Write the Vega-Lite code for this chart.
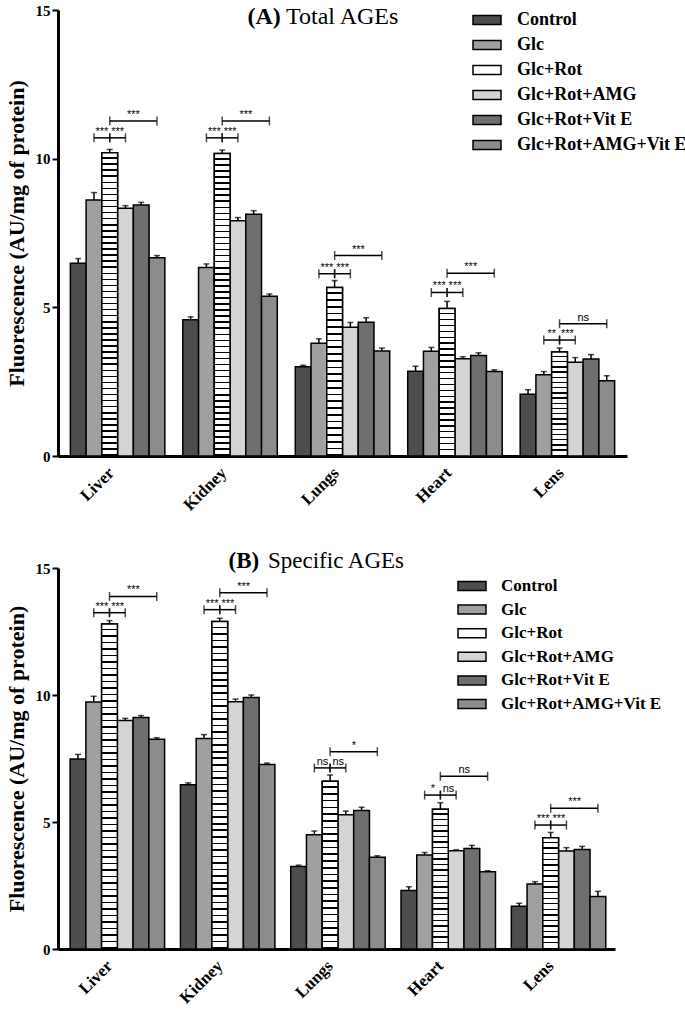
{
"$schema":"https://vega.github.io/schema/vega-lite/v6.json",
"padding":{"left":5,"top":3,"right":5,"bottom":5},
"bounds":"flush",
"spacing":112,
"params":[
{"name":"g50","value":{"gradient":"linear","x1":0,"y1":0,"x2":0,"y2":1,"stops":[
{"offset":0,"color":"#fff"},{"offset":0.015,"color":"#fff"},{"offset":0.015,"color":"#000"},{"offset":0.02,"color":"#000"},
{"offset":0.02,"color":"#fff"},{"offset":0.035,"color":"#fff"},{"offset":0.035,"color":"#000"},{"offset":0.04,"color":"#000"},
{"offset":0.04,"color":"#fff"},{"offset":0.055,"color":"#fff"},{"offset":0.055,"color":"#000"},{"offset":0.06,"color":"#000"},
{"offset":0.06,"color":"#fff"},{"offset":0.075,"color":"#fff"},{"offset":0.075,"color":"#000"},{"offset":0.08,"color":"#000"},
{"offset":0.08,"color":"#fff"},{"offset":0.095,"color":"#fff"},{"offset":0.095,"color":"#000"},{"offset":0.1,"color":"#000"},
{"offset":0.1,"color":"#fff"},{"offset":0.115,"color":"#fff"},{"offset":0.115,"color":"#000"},{"offset":0.12,"color":"#000"},
{"offset":0.12,"color":"#fff"},{"offset":0.135,"color":"#fff"},{"offset":0.135,"color":"#000"},{"offset":0.14,"color":"#000"},
{"offset":0.14,"color":"#fff"},{"offset":0.155,"color":"#fff"},{"offset":0.155,"color":"#000"},{"offset":0.16,"color":"#000"},
{"offset":0.16,"color":"#fff"},{"offset":0.175,"color":"#fff"},{"offset":0.175,"color":"#000"},{"offset":0.18,"color":"#000"},
{"offset":0.18,"color":"#fff"},{"offset":0.195,"color":"#fff"},{"offset":0.195,"color":"#000"},{"offset":0.2,"color":"#000"},
{"offset":0.2,"color":"#fff"},{"offset":0.215,"color":"#fff"},{"offset":0.215,"color":"#000"},{"offset":0.22,"color":"#000"},
{"offset":0.22,"color":"#fff"},{"offset":0.235,"color":"#fff"},{"offset":0.235,"color":"#000"},{"offset":0.24,"color":"#000"},
{"offset":0.24,"color":"#fff"},{"offset":0.255,"color":"#fff"},{"offset":0.255,"color":"#000"},{"offset":0.26,"color":"#000"},
{"offset":0.26,"color":"#fff"},{"offset":0.275,"color":"#fff"},{"offset":0.275,"color":"#000"},{"offset":0.28,"color":"#000"},
{"offset":0.28,"color":"#fff"},{"offset":0.295,"color":"#fff"},{"offset":0.295,"color":"#000"},{"offset":0.3,"color":"#000"},
{"offset":0.3,"color":"#fff"},{"offset":0.315,"color":"#fff"},{"offset":0.315,"color":"#000"},{"offset":0.32,"color":"#000"},
{"offset":0.32,"color":"#fff"},{"offset":0.335,"color":"#fff"},{"offset":0.335,"color":"#000"},{"offset":0.34,"color":"#000"},
{"offset":0.34,"color":"#fff"},{"offset":0.355,"color":"#fff"},{"offset":0.355,"color":"#000"},{"offset":0.36,"color":"#000"},
{"offset":0.36,"color":"#fff"},{"offset":0.375,"color":"#fff"},{"offset":0.375,"color":"#000"},{"offset":0.38,"color":"#000"},
{"offset":0.38,"color":"#fff"},{"offset":0.395,"color":"#fff"},{"offset":0.395,"color":"#000"},{"offset":0.4,"color":"#000"},
{"offset":0.4,"color":"#fff"},{"offset":0.415,"color":"#fff"},{"offset":0.415,"color":"#000"},{"offset":0.42,"color":"#000"},
{"offset":0.42,"color":"#fff"},{"offset":0.435,"color":"#fff"},{"offset":0.435,"color":"#000"},{"offset":0.44,"color":"#000"},
{"offset":0.44,"color":"#fff"},{"offset":0.455,"color":"#fff"},{"offset":0.455,"color":"#000"},{"offset":0.46,"color":"#000"},
{"offset":0.46,"color":"#fff"},{"offset":0.475,"color":"#fff"},{"offset":0.475,"color":"#000"},{"offset":0.48,"color":"#000"},
{"offset":0.48,"color":"#fff"},{"offset":0.495,"color":"#fff"},{"offset":0.495,"color":"#000"},{"offset":0.5,"color":"#000"},
{"offset":0.5,"color":"#fff"},{"offset":0.515,"color":"#fff"},{"offset":0.515,"color":"#000"},{"offset":0.52,"color":"#000"},
{"offset":0.52,"color":"#fff"},{"offset":0.535,"color":"#fff"},{"offset":0.535,"color":"#000"},{"offset":0.54,"color":"#000"},
{"offset":0.54,"color":"#fff"},{"offset":0.555,"color":"#fff"},{"offset":0.555,"color":"#000"},{"offset":0.56,"color":"#000"},
{"offset":0.56,"color":"#fff"},{"offset":0.575,"color":"#fff"},{"offset":0.575,"color":"#000"},{"offset":0.58,"color":"#000"},
{"offset":0.58,"color":"#fff"},{"offset":0.595,"color":"#fff"},{"offset":0.595,"color":"#000"},{"offset":0.6,"color":"#000"},
{"offset":0.6,"color":"#fff"},{"offset":0.615,"color":"#fff"},{"offset":0.615,"color":"#000"},{"offset":0.62,"color":"#000"},
{"offset":0.62,"color":"#fff"},{"offset":0.635,"color":"#fff"},{"offset":0.635,"color":"#000"},{"offset":0.64,"color":"#000"},
{"offset":0.64,"color":"#fff"},{"offset":0.655,"color":"#fff"},{"offset":0.655,"color":"#000"},{"offset":0.66,"color":"#000"},
{"offset":0.66,"color":"#fff"},{"offset":0.675,"color":"#fff"},{"offset":0.675,"color":"#000"},{"offset":0.68,"color":"#000"},
{"offset":0.68,"color":"#fff"},{"offset":0.695,"color":"#fff"},{"offset":0.695,"color":"#000"},{"offset":0.7,"color":"#000"},
{"offset":0.7,"color":"#fff"},{"offset":0.715,"color":"#fff"},{"offset":0.715,"color":"#000"},{"offset":0.72,"color":"#000"},
{"offset":0.72,"color":"#fff"},{"offset":0.735,"color":"#fff"},{"offset":0.735,"color":"#000"},{"offset":0.74,"color":"#000"},
{"offset":0.74,"color":"#fff"},{"offset":0.755,"color":"#fff"},{"offset":0.755,"color":"#000"},{"offset":0.76,"color":"#000"},
{"offset":0.76,"color":"#fff"},{"offset":0.775,"color":"#fff"},{"offset":0.775,"color":"#000"},{"offset":0.78,"color":"#000"},
{"offset":0.78,"color":"#fff"},{"offset":0.795,"color":"#fff"},{"offset":0.795,"color":"#000"},{"offset":0.8,"color":"#000"},
{"offset":0.8,"color":"#fff"},{"offset":0.815,"color":"#fff"},{"offset":0.815,"color":"#000"},{"offset":0.82,"color":"#000"},
{"offset":0.82,"color":"#fff"},{"offset":0.835,"color":"#fff"},{"offset":0.835,"color":"#000"},{"offset":0.84,"color":"#000"},
{"offset":0.84,"color":"#fff"},{"offset":0.855,"color":"#fff"},{"offset":0.855,"color":"#000"},{"offset":0.86,"color":"#000"},
{"offset":0.86,"color":"#fff"},{"offset":0.875,"color":"#fff"},{"offset":0.875,"color":"#000"},{"offset":0.88,"color":"#000"},
{"offset":0.88,"color":"#fff"},{"offset":0.895,"color":"#fff"},{"offset":0.895,"color":"#000"},{"offset":0.9,"color":"#000"},
{"offset":0.9,"color":"#fff"},{"offset":0.915,"color":"#fff"},{"offset":0.915,"color":"#000"},{"offset":0.92,"color":"#000"},
{"offset":0.92,"color":"#fff"},{"offset":0.935,"color":"#fff"},{"offset":0.935,"color":"#000"},{"offset":0.94,"color":"#000"},
{"offset":0.94,"color":"#fff"},{"offset":0.955,"color":"#fff"},{"offset":0.955,"color":"#000"},{"offset":0.96,"color":"#000"},
{"offset":0.96,"color":"#fff"},{"offset":0.975,"color":"#fff"},{"offset":0.975,"color":"#000"},{"offset":0.98,"color":"#000"},
{"offset":0.98,"color":"#fff"},{"offset":0.995,"color":"#fff"},{"offset":0.995,"color":"#000"},{"offset":1,"color":"#000"}
]}},
{"name":"g25","value":{"gradient":"linear","x1":0,"y1":0,"x2":0,"y2":1,"stops":[
{"offset":0,"color":"#fff"},{"offset":0.03,"color":"#fff"},{"offset":0.03,"color":"#000"},{"offset":0.04,"color":"#000"},
{"offset":0.04,"color":"#fff"},{"offset":0.07,"color":"#fff"},{"offset":0.07,"color":"#000"},{"offset":0.08,"color":"#000"},
{"offset":0.08,"color":"#fff"},{"offset":0.11,"color":"#fff"},{"offset":0.11,"color":"#000"},{"offset":0.12,"color":"#000"},
{"offset":0.12,"color":"#fff"},{"offset":0.15,"color":"#fff"},{"offset":0.15,"color":"#000"},{"offset":0.16,"color":"#000"},
{"offset":0.16,"color":"#fff"},{"offset":0.19,"color":"#fff"},{"offset":0.19,"color":"#000"},{"offset":0.2,"color":"#000"},
{"offset":0.2,"color":"#fff"},{"offset":0.23,"color":"#fff"},{"offset":0.23,"color":"#000"},{"offset":0.24,"color":"#000"},
{"offset":0.24,"color":"#fff"},{"offset":0.27,"color":"#fff"},{"offset":0.27,"color":"#000"},{"offset":0.28,"color":"#000"},
{"offset":0.28,"color":"#fff"},{"offset":0.31,"color":"#fff"},{"offset":0.31,"color":"#000"},{"offset":0.32,"color":"#000"},
{"offset":0.32,"color":"#fff"},{"offset":0.35,"color":"#fff"},{"offset":0.35,"color":"#000"},{"offset":0.36,"color":"#000"},
{"offset":0.36,"color":"#fff"},{"offset":0.39,"color":"#fff"},{"offset":0.39,"color":"#000"},{"offset":0.4,"color":"#000"},
{"offset":0.4,"color":"#fff"},{"offset":0.43,"color":"#fff"},{"offset":0.43,"color":"#000"},{"offset":0.44,"color":"#000"},
{"offset":0.44,"color":"#fff"},{"offset":0.47,"color":"#fff"},{"offset":0.47,"color":"#000"},{"offset":0.48,"color":"#000"},
{"offset":0.48,"color":"#fff"},{"offset":0.51,"color":"#fff"},{"offset":0.51,"color":"#000"},{"offset":0.52,"color":"#000"},
{"offset":0.52,"color":"#fff"},{"offset":0.55,"color":"#fff"},{"offset":0.55,"color":"#000"},{"offset":0.56,"color":"#000"},
{"offset":0.56,"color":"#fff"},{"offset":0.59,"color":"#fff"},{"offset":0.59,"color":"#000"},{"offset":0.6,"color":"#000"},
{"offset":0.6,"color":"#fff"},{"offset":0.63,"color":"#fff"},{"offset":0.63,"color":"#000"},{"offset":0.64,"color":"#000"},
{"offset":0.64,"color":"#fff"},{"offset":0.67,"color":"#fff"},{"offset":0.67,"color":"#000"},{"offset":0.68,"color":"#000"},
{"offset":0.68,"color":"#fff"},{"offset":0.71,"color":"#fff"},{"offset":0.71,"color":"#000"},{"offset":0.72,"color":"#000"},
{"offset":0.72,"color":"#fff"},{"offset":0.75,"color":"#fff"},{"offset":0.75,"color":"#000"},{"offset":0.76,"color":"#000"},
{"offset":0.76,"color":"#fff"},{"offset":0.79,"color":"#fff"},{"offset":0.79,"color":"#000"},{"offset":0.8,"color":"#000"},
{"offset":0.8,"color":"#fff"},{"offset":0.83,"color":"#fff"},{"offset":0.83,"color":"#000"},{"offset":0.84,"color":"#000"},
{"offset":0.84,"color":"#fff"},{"offset":0.87,"color":"#fff"},{"offset":0.87,"color":"#000"},{"offset":0.88,"color":"#000"},
{"offset":0.88,"color":"#fff"},{"offset":0.91,"color":"#fff"},{"offset":0.91,"color":"#000"},{"offset":0.92,"color":"#000"},
{"offset":0.92,"color":"#fff"},{"offset":0.95,"color":"#fff"},{"offset":0.95,"color":"#000"},{"offset":0.96,"color":"#000"},
{"offset":0.96,"color":"#fff"},{"offset":0.99,"color":"#fff"},{"offset":0.99,"color":"#000"},{"offset":1,"color":"#000"}
]}},
{"name":"g20","value":{"gradient":"linear","x1":0,"y1":0,"x2":0,"y2":1,"stops":[
{"offset":0,"color":"#fff"},{"offset":0.0375,"color":"#fff"},{"offset":0.0375,"color":"#000"},{"offset":0.05,"color":"#000"},
{"offset":0.05,"color":"#fff"},{"offset":0.0875,"color":"#fff"},{"offset":0.0875,"color":"#000"},{"offset":0.1,"color":"#000"},
{"offset":0.1,"color":"#fff"},{"offset":0.1375,"color":"#fff"},{"offset":0.1375,"color":"#000"},{"offset":0.15,"color":"#000"},
{"offset":0.15,"color":"#fff"},{"offset":0.1875,"color":"#fff"},{"offset":0.1875,"color":"#000"},{"offset":0.2,"color":"#000"},
{"offset":0.2,"color":"#fff"},{"offset":0.2375,"color":"#fff"},{"offset":0.2375,"color":"#000"},{"offset":0.25,"color":"#000"},
{"offset":0.25,"color":"#fff"},{"offset":0.2875,"color":"#fff"},{"offset":0.2875,"color":"#000"},{"offset":0.3,"color":"#000"},
{"offset":0.3,"color":"#fff"},{"offset":0.3375,"color":"#fff"},{"offset":0.3375,"color":"#000"},{"offset":0.35,"color":"#000"},
{"offset":0.35,"color":"#fff"},{"offset":0.3875,"color":"#fff"},{"offset":0.3875,"color":"#000"},{"offset":0.4,"color":"#000"},
{"offset":0.4,"color":"#fff"},{"offset":0.4375,"color":"#fff"},{"offset":0.4375,"color":"#000"},{"offset":0.45,"color":"#000"},
{"offset":0.45,"color":"#fff"},{"offset":0.4875,"color":"#fff"},{"offset":0.4875,"color":"#000"},{"offset":0.5,"color":"#000"},
{"offset":0.5,"color":"#fff"},{"offset":0.5375,"color":"#fff"},{"offset":0.5375,"color":"#000"},{"offset":0.55,"color":"#000"},
{"offset":0.55,"color":"#fff"},{"offset":0.5875,"color":"#fff"},{"offset":0.5875,"color":"#000"},{"offset":0.6,"color":"#000"},
{"offset":0.6,"color":"#fff"},{"offset":0.6375,"color":"#fff"},{"offset":0.6375,"color":"#000"},{"offset":0.65,"color":"#000"},
{"offset":0.65,"color":"#fff"},{"offset":0.6875,"color":"#fff"},{"offset":0.6875,"color":"#000"},{"offset":0.7,"color":"#000"},
{"offset":0.7,"color":"#fff"},{"offset":0.7375,"color":"#fff"},{"offset":0.7375,"color":"#000"},{"offset":0.75,"color":"#000"},
{"offset":0.75,"color":"#fff"},{"offset":0.7875,"color":"#fff"},{"offset":0.7875,"color":"#000"},{"offset":0.8,"color":"#000"},
{"offset":0.8,"color":"#fff"},{"offset":0.8375,"color":"#fff"},{"offset":0.8375,"color":"#000"},{"offset":0.85,"color":"#000"},
{"offset":0.85,"color":"#fff"},{"offset":0.8875,"color":"#fff"},{"offset":0.8875,"color":"#000"},{"offset":0.9,"color":"#000"},
{"offset":0.9,"color":"#fff"},{"offset":0.9375,"color":"#fff"},{"offset":0.9375,"color":"#000"},{"offset":0.95,"color":"#000"},
{"offset":0.95,"color":"#fff"},{"offset":0.9875,"color":"#fff"},{"offset":0.9875,"color":"#000"},{"offset":1,"color":"#000"}
]}}
],
"config":{"view":{"stroke":null},"font":"Liberation Serif",
"axisY":{"grid":false,"domainColor":"black","domainWidth":3,"tickColor":"black","tickWidth":2,"tickSize":6,"labelFont":"Liberation Serif","labelFontSize":15,"labelFontWeight":"bold","labelColor":"black","labelPadding":2,"titleFont":"Liberation Serif","titleFontSize":22,"titleFontWeight":"bold","titleColor":"black","titlePadding":7},
"axisX":{"grid":false,"labelAlign":"right","labelBaseline":"middle","labelPadding":14,"labelOffset":-6,"labelFont":"Liberation Serif","labelFontSize":17,"labelFontWeight":"bold","labelColor":"black","ticks":false,"domainColor":"black","domainWidth":3,"titleAngle":0,"titleAlign":"left","titleBaseline":"alphabetic","titleFont":"Liberation Serif","titleFontWeight":"bold","titleColor":"black"}
},
"resolve":{"scale":{"fill":"independent"},"legend":{"fill":"independent"}},
"datasets":{
"bars":[
{"p":"A","organ":"Liver","group":"Control","value":6.48,"upper":6.64},
{"p":"A","organ":"Liver","group":"Glc","value":8.61,"upper":8.86},
{"p":"A","organ":"Liver","group":"Glc+Rot","value":10.2,"upper":10.31},
{"p":"A","organ":"Liver","group":"Glc+Rot+AMG","value":8.33,"upper":8.42},
{"p":"A","organ":"Liver","group":"Glc+Rot+Vit E","value":8.44,"upper":8.53},
{"p":"A","organ":"Liver","group":"Glc+Rot+AMG+Vit E","value":6.67,"upper":6.74},
{"p":"A","organ":"Kidney","group":"Control","value":4.58,"upper":4.68},
{"p":"A","organ":"Kidney","group":"Glc","value":6.34,"upper":6.46},
{"p":"A","organ":"Kidney","group":"Glc+Rot","value":10.17,"upper":10.29},
{"p":"A","organ":"Kidney","group":"Glc+Rot+AMG","value":7.91,"upper":8.02},
{"p":"A","organ":"Kidney","group":"Glc+Rot+Vit E","value":8.13,"upper":8.25},
{"p":"A","organ":"Kidney","group":"Glc+Rot+AMG+Vit E","value":5.37,"upper":5.45},
{"p":"A","organ":"Lungs","group":"Control","value":3.0,"upper":3.05},
{"p":"A","organ":"Lungs","group":"Glc","value":3.79,"upper":3.94},
{"p":"A","organ":"Lungs","group":"Glc+Rot","value":5.67,"upper":5.9},
{"p":"A","organ":"Lungs","group":"Glc+Rot+AMG","value":4.33,"upper":4.49},
{"p":"A","organ":"Lungs","group":"Glc+Rot+Vit E","value":4.5,"upper":4.65},
{"p":"A","organ":"Lungs","group":"Glc+Rot+AMG+Vit E","value":3.53,"upper":3.63},
{"p":"A","organ":"Heart","group":"Control","value":2.85,"upper":3.02},
{"p":"A","organ":"Heart","group":"Glc","value":3.52,"upper":3.65},
{"p":"A","organ":"Heart","group":"Glc+Rot","value":4.96,"upper":5.2},
{"p":"A","organ":"Heart","group":"Glc+Rot+AMG","value":3.27,"upper":3.34},
{"p":"A","organ":"Heart","group":"Glc+Rot+Vit E","value":3.38,"upper":3.47},
{"p":"A","organ":"Heart","group":"Glc+Rot+AMG+Vit E","value":2.84,"upper":2.9},
{"p":"A","organ":"Lens","group":"Control","value":2.08,"upper":2.23},
{"p":"A","organ":"Lens","group":"Glc","value":2.73,"upper":2.84},
{"p":"A","organ":"Lens","group":"Glc+Rot","value":3.5,"upper":3.63},
{"p":"A","organ":"Lens","group":"Glc+Rot+AMG","value":3.15,"upper":3.31},
{"p":"A","organ":"Lens","group":"Glc+Rot+Vit E","value":3.26,"upper":3.41},
{"p":"A","organ":"Lens","group":"Glc+Rot+AMG+Vit E","value":2.53,"upper":2.7},
{"p":"B","organ":"Liver","group":"Control","value":7.48,"upper":7.66},
{"p":"B","organ":"Liver","group":"Glc","value":9.72,"upper":9.95},
{"p":"B","organ":"Liver","group":"Glc+Rot","value":12.8,"upper":12.93},
{"p":"B","organ":"Liver","group":"Glc+Rot+AMG","value":9.0,"upper":9.08},
{"p":"B","organ":"Liver","group":"Glc+Rot+Vit E","value":9.11,"upper":9.19},
{"p":"B","organ":"Liver","group":"Glc+Rot+AMG+Vit E","value":8.26,"upper":8.32},
{"p":"B","organ":"Kidney","group":"Control","value":6.47,"upper":6.54},
{"p":"B","organ":"Kidney","group":"Glc","value":8.29,"upper":8.44},
{"p":"B","organ":"Kidney","group":"Glc+Rot","value":12.89,"upper":13.02},
{"p":"B","organ":"Kidney","group":"Glc+Rot+AMG","value":9.73,"upper":9.84},
{"p":"B","organ":"Kidney","group":"Glc+Rot+Vit E","value":9.9,"upper":10.0},
{"p":"B","organ":"Kidney","group":"Glc+Rot+AMG+Vit E","value":7.26,"upper":7.32},
{"p":"B","organ":"Lungs","group":"Control","value":3.25,"upper":3.3},
{"p":"B","organ":"Lungs","group":"Glc","value":4.5,"upper":4.65},
{"p":"B","organ":"Lungs","group":"Glc+Rot","value":6.6,"upper":6.85},
{"p":"B","organ":"Lungs","group":"Glc+Rot+AMG","value":5.29,"upper":5.43},
{"p":"B","organ":"Lungs","group":"Glc+Rot+Vit E","value":5.45,"upper":5.58},
{"p":"B","organ":"Lungs","group":"Glc+Rot+AMG+Vit E","value":3.61,"upper":3.67},
{"p":"B","organ":"Heart","group":"Control","value":2.3,"upper":2.45},
{"p":"B","organ":"Heart","group":"Glc","value":3.7,"upper":3.8},
{"p":"B","organ":"Heart","group":"Glc+Rot","value":5.5,"upper":5.76},
{"p":"B","organ":"Heart","group":"Glc+Rot+AMG","value":3.87,"upper":3.91},
{"p":"B","organ":"Heart","group":"Glc+Rot+Vit E","value":3.96,"upper":4.08},
{"p":"B","organ":"Heart","group":"Glc+Rot+AMG+Vit E","value":3.04,"upper":3.08},
{"p":"B","organ":"Lens","group":"Control","value":1.68,"upper":1.8},
{"p":"B","organ":"Lens","group":"Glc","value":2.56,"upper":2.65},
{"p":"B","organ":"Lens","group":"Glc+Rot","value":4.38,"upper":4.59},
{"p":"B","organ":"Lens","group":"Glc+Rot+AMG","value":3.86,"upper":3.99},
{"p":"B","organ":"Lens","group":"Glc+Rot+Vit E","value":3.92,"upper":4.04},
{"p":"B","organ":"Lens","group":"Glc+Rot+AMG+Vit E","value":2.07,"upper":2.27}
],
"brackets":[
{"p":"A","organ":"Liver","bid":"A-Liver-1","from":"Glc","to":"Glc+Rot","labelAt":"Glc+Rot","yb":10.7,"label":"***"},
{"p":"A","organ":"Liver","bid":"A-Liver-2","from":"Glc+Rot","to":"Glc+Rot+AMG","labelAt":"Glc+Rot+AMG","yb":10.7,"label":"***"},
{"p":"A","organ":"Liver","bid":"A-Liver-3","from":"Glc+Rot","to":"Glc+Rot+AMG+Vit E","labelAt":"Glc+Rot+Vit E","yb":11.27,"label":"***"},
{"p":"A","organ":"Kidney","bid":"A-Kidney-1","from":"Glc","to":"Glc+Rot","labelAt":"Glc+Rot","yb":10.7,"label":"***"},
{"p":"A","organ":"Kidney","bid":"A-Kidney-2","from":"Glc+Rot","to":"Glc+Rot+AMG","labelAt":"Glc+Rot+AMG","yb":10.7,"label":"***"},
{"p":"A","organ":"Kidney","bid":"A-Kidney-3","from":"Glc+Rot","to":"Glc+Rot+AMG+Vit E","labelAt":"Glc+Rot+Vit E","yb":11.27,"label":"***"},
{"p":"A","organ":"Lungs","bid":"A-Lungs-1","from":"Glc","to":"Glc+Rot","labelAt":"Glc+Rot","yb":6.13,"label":"***"},
{"p":"A","organ":"Lungs","bid":"A-Lungs-2","from":"Glc+Rot","to":"Glc+Rot+AMG","labelAt":"Glc+Rot+AMG","yb":6.13,"label":"***"},
{"p":"A","organ":"Lungs","bid":"A-Lungs-3","from":"Glc+Rot","to":"Glc+Rot+AMG+Vit E","labelAt":"Glc+Rot+Vit E","yb":6.74,"label":"***"},
{"p":"A","organ":"Heart","bid":"A-Heart-1","from":"Glc","to":"Glc+Rot","labelAt":"Glc+Rot","yb":5.5,"label":"***"},
{"p":"A","organ":"Heart","bid":"A-Heart-2","from":"Glc+Rot","to":"Glc+Rot+AMG","labelAt":"Glc+Rot+AMG","yb":5.5,"label":"***"},
{"p":"A","organ":"Heart","bid":"A-Heart-3","from":"Glc+Rot","to":"Glc+Rot+AMG+Vit E","labelAt":"Glc+Rot+Vit E","yb":6.15,"label":"***"},
{"p":"A","organ":"Lens","bid":"A-Lens-1","from":"Glc","to":"Glc+Rot","labelAt":"Glc+Rot","yb":3.9,"label":"**"},
{"p":"A","organ":"Lens","bid":"A-Lens-2","from":"Glc+Rot","to":"Glc+Rot+AMG","labelAt":"Glc+Rot+AMG","yb":3.9,"label":"***"},
{"p":"A","organ":"Lens","bid":"A-Lens-3","from":"Glc+Rot","to":"Glc+Rot+AMG+Vit E","labelAt":"Glc+Rot+Vit E","yb":4.45,"label":"ns"},
{"p":"B","organ":"Liver","bid":"B-Liver-1","from":"Glc","to":"Glc+Rot","labelAt":"Glc+Rot","yb":13.24,"label":"***"},
{"p":"B","organ":"Liver","bid":"B-Liver-2","from":"Glc+Rot","to":"Glc+Rot+AMG","labelAt":"Glc+Rot+AMG","yb":13.24,"label":"***"},
{"p":"B","organ":"Liver","bid":"B-Liver-3","from":"Glc+Rot","to":"Glc+Rot+AMG+Vit E","labelAt":"Glc+Rot+Vit E","yb":13.88,"label":"***"},
{"p":"B","organ":"Kidney","bid":"B-Kidney-1","from":"Glc","to":"Glc+Rot","labelAt":"Glc+Rot","yb":13.36,"label":"***"},
{"p":"B","organ":"Kidney","bid":"B-Kidney-2","from":"Glc+Rot","to":"Glc+Rot+AMG","labelAt":"Glc+Rot+AMG","yb":13.36,"label":"***"},
{"p":"B","organ":"Kidney","bid":"B-Kidney-3","from":"Glc+Rot","to":"Glc+Rot+AMG+Vit E","labelAt":"Glc+Rot+Vit E","yb":14.03,"label":"***"},
{"p":"B","organ":"Lungs","bid":"B-Lungs-1","from":"Glc","to":"Glc+Rot","labelAt":"Glc+Rot","yb":7.13,"label":"ns"},
{"p":"B","organ":"Lungs","bid":"B-Lungs-2","from":"Glc+Rot","to":"Glc+Rot+AMG","labelAt":"Glc+Rot+AMG","yb":7.13,"label":"ns"},
{"p":"B","organ":"Lungs","bid":"B-Lungs-3","from":"Glc+Rot","to":"Glc+Rot+AMG+Vit E","labelAt":"Glc+Rot+Vit E","yb":7.77,"label":"*"},
{"p":"B","organ":"Heart","bid":"B-Heart-1","from":"Glc","to":"Glc+Rot","labelAt":"Glc+Rot","yb":6.06,"label":"*"},
{"p":"B","organ":"Heart","bid":"B-Heart-2","from":"Glc+Rot","to":"Glc+Rot+AMG","labelAt":"Glc+Rot+AMG","yb":6.06,"label":"ns"},
{"p":"B","organ":"Heart","bid":"B-Heart-3","from":"Glc+Rot","to":"Glc+Rot+AMG+Vit E","labelAt":"Glc+Rot+Vit E","yb":6.8,"label":"ns"},
{"p":"B","organ":"Lens","bid":"B-Lens-1","from":"Glc","to":"Glc+Rot","labelAt":"Glc+Rot","yb":4.88,"label":"***"},
{"p":"B","organ":"Lens","bid":"B-Lens-2","from":"Glc+Rot","to":"Glc+Rot+AMG","labelAt":"Glc+Rot+AMG","yb":4.88,"label":"***"},
{"p":"B","organ":"Lens","bid":"B-Lens-3","from":"Glc+Rot","to":"Glc+Rot+AMG+Vit E","labelAt":"Glc+Rot+Vit E","yb":5.54,"label":"***"}
]
},
"vconcat":[
{
"width":569,"height":446,
"title":{"text":"Total AGEs","anchor":"start","frame":"group","dx":228,"offset":-45,"baseline":"alphabetic","font":"Liberation Serif","fontSize":24,"fontWeight":"normal","color":"black"},
"encoding":{
"x":{"field":"organ","type":"nominal","scale":{"domain":["Liver","Kidney","Lungs","Heart","Lens"],"paddingInner":0.16,"paddingOuter":0.11},
"axis":{"title":"(A)","titleX":189,"titleY":-433,"titleFontSize":24,"labelAngle":315}},
"xOffset":{"field":"group","type":"nominal","scale":{"domain":["Control","Glc","Glc+Rot","Glc+Rot+AMG","Glc+Rot+Vit E","Glc+Rot+AMG+Vit E"],"paddingInner":0,"paddingOuter":0}}
},
"layer":[
{"data":{"name":"bars"},"transform":[{"filter":"datum.p==='A'"}],
"mark":{"type":"bar","stroke":"black","strokeWidth":1.5},
"encoding":{
"y":{"field":"value","type":"quantitative","scale":{"domain":[0,15],"nice":false},"axis":{"title":"Fluorescence (AU/mg of protein)","titleFont":"Liberation Serif","values":[0,5,10,15],"format":"d"}},
"fill":{"field":"group","type":"nominal","scale":{"domain":["Control","Glc","Glc+Rot","Glc+Rot+AMG","Glc+Rot+Vit E","Glc+Rot+AMG+Vit E"],"range":["#4d4d4d","#a0a0a0","#ffffff","#d4d4d4","#6f6f6f","#8c8c8c"]},
"legend":{"orient":"none","legendX":418,"legendY":-1,"title":null,"symbolType":"M-1.4,-0.45H1.4V0.45H-1.4Z","symbolSize":400,"symbolStrokeColor":"black","symbolStrokeWidth":1.5,"symbolOpacity":1,"labelFont":"Liberation Serif","labelFontSize":18,"labelFontWeight":"bold","labelColor":"black","labelOffset":19,"rowPadding":5,"padding":0,"labelLimit":300}}
}},
{"data":{"name":"bars"},"transform":[{"filter":"datum.p==='A' && datum.group==='Glc+Rot' && datum.value>8"}],
"mark":{"type":"bar","fill":{"expr":"g50"},"stroke":"black","strokeWidth":1.5},
"encoding":{"y":{"field":"value","type":"quantitative","scale":{"domain":[0,15],"nice":false},"axis":{"title":"Fluorescence (AU/mg of protein)","titleFont":"Liberation Serif","values":[0,5,10,15],"format":"d"}}}},
{"data":{"name":"bars"},"transform":[{"filter":"datum.p==='A' && datum.group==='Glc+Rot' && datum.value<=8 && datum.value>4.7"}],
"mark":{"type":"bar","fill":{"expr":"g25"},"stroke":"black","strokeWidth":1.5},
"encoding":{"y":{"field":"value","type":"quantitative","scale":{"domain":[0,15],"nice":false},"axis":{"title":"Fluorescence (AU/mg of protein)","titleFont":"Liberation Serif","values":[0,5,10,15],"format":"d"}}}},
{"data":{"name":"bars"},"transform":[{"filter":"datum.p==='A' && datum.group==='Glc+Rot' && datum.value<=4.7"}],
"mark":{"type":"bar","fill":{"expr":"g20"},"stroke":"black","strokeWidth":1.5},
"encoding":{"y":{"field":"value","type":"quantitative","scale":{"domain":[0,15],"nice":false},"axis":{"title":"Fluorescence (AU/mg of protein)","titleFont":"Liberation Serif","values":[0,5,10,15],"format":"d"}}}},
{"data":{"name":"bars"},"transform":[{"filter":"datum.p==='A'"}],
"mark":{"type":"rule","color":"black","strokeWidth":1.5},
"encoding":{"y":{"field":"value","type":"quantitative","scale":{"domain":[0,15],"nice":false},"axis":{"title":"Fluorescence (AU/mg of protein)","titleFont":"Liberation Serif","values":[0,5,10,15],"format":"d"}},"y2":{"field":"upper"}}},
{"data":{"name":"bars"},"transform":[{"filter":"datum.p==='A'"}],
"mark":{"type":"tick","orient":"horizontal","color":"black","thickness":1.5,"size":6},
"encoding":{"y":{"field":"upper","type":"quantitative","scale":{"domain":[0,15],"nice":false},"axis":{"title":"Fluorescence (AU/mg of protein)","titleFont":"Liberation Serif","values":[0,5,10,15],"format":"d"}}}},
{"data":{"name":"brackets"},"transform":[{"filter":"datum.p==='A'"},{"fold":["from","to"],"as":["end","group"]}],
"mark":{"type":"line","color":"black","strokeWidth":1.5},
"encoding":{"y":{"field":"yb","type":"quantitative","scale":{"domain":[0,15],"nice":false},"axis":{"title":"Fluorescence (AU/mg of protein)","titleFont":"Liberation Serif","values":[0,5,10,15],"format":"d"}},"detail":{"field":"bid"}}},
{"data":{"name":"brackets"},"transform":[{"filter":"datum.p==='A'"},{"fold":["from","to"],"as":["end","group"]}],
"mark":{"type":"tick","orient":"vertical","color":"black","thickness":1.5,"size":9},
"encoding":{"y":{"field":"yb","type":"quantitative","scale":{"domain":[0,15],"nice":false},"axis":{"title":"Fluorescence (AU/mg of protein)","titleFont":"Liberation Serif","values":[0,5,10,15],"format":"d"}}}},
{"data":{"name":"brackets"},"transform":[{"filter":"datum.p==='A'"}],
"mark":{"type":"text","font":"Liberation Sans","fontSize":11,"dx":-7.8,"dy":-3,"baseline":"alphabetic","color":"black"},
"encoding":{"xOffset":{"field":"labelAt","type":"nominal","scale":{"domain":["Control","Glc","Glc+Rot","Glc+Rot+AMG","Glc+Rot+Vit E","Glc+Rot+AMG+Vit E"],"paddingInner":0,"paddingOuter":0}},
"y":{"field":"yb","type":"quantitative","scale":{"domain":[0,15],"nice":false},"axis":{"title":"Fluorescence (AU/mg of protein)","titleFont":"Liberation Serif","values":[0,5,10,15],"format":"d"}},"text":{"field":"label"}}}
]
},
{
"width":557,"height":381,
"title":{"text":"Specific AGEs","anchor":"start","frame":"group","dx":210,"offset":-42,"baseline":"alphabetic","font":"Liberation Serif","fontSize":23,"fontWeight":"normal","color":"black"},
"encoding":{
"x":{"field":"organ","type":"nominal","scale":{"domain":["Liver","Kidney","Lungs","Heart","Lens"],"paddingInner":0.17,"paddingOuter":0.11},
"axis":{"title":"(B)","titleX":170,"titleY":-382,"titleFontSize":23,"labelAngle":315}},
"xOffset":{"field":"group","type":"nominal","scale":{"domain":["Control","Glc","Glc+Rot","Glc+Rot+AMG","Glc+Rot+Vit E","Glc+Rot+AMG+Vit E"],"paddingInner":0,"paddingOuter":0}}
},
"layer":[
{"data":{"name":"bars"},"transform":[{"filter":"datum.p==='B'"}],
"mark":{"type":"bar","stroke":"black","strokeWidth":1.5},
"encoding":{
"y":{"field":"value","type":"quantitative","scale":{"domain":[0,15],"nice":false},"axis":{"title":"Fluorescence (AU/mg of protein)","titleFont":"Liberation Serif","values":[0,5,10,15],"format":"d"}},
"fill":{"field":"group","type":"nominal","scale":{"domain":["Control","Glc","Glc+Rot","Glc+Rot+AMG","Glc+Rot+Vit E","Glc+Rot+AMG+Vit E"],"range":["#4d4d4d","#a0a0a0","#ffffff","#d4d4d4","#6f6f6f","#8c8c8c"]},
"legend":{"orient":"none","legendX":403,"legendY":7,"title":null,"symbolType":"M-1.4,-0.45H1.4V0.45H-1.4Z","symbolSize":400,"symbolStrokeColor":"black","symbolStrokeWidth":1.5,"symbolOpacity":1,"labelFont":"Liberation Serif","labelFontSize":17,"labelFontWeight":"bold","labelColor":"black","labelOffset":18,"rowPadding":4.6,"padding":0,"labelLimit":300}}
}},
{"data":{"name":"bars"},"transform":[{"filter":"datum.p==='B' && datum.group==='Glc+Rot' && datum.value>8"}],
"mark":{"type":"bar","fill":{"expr":"g50"},"stroke":"black","strokeWidth":1.5},
"encoding":{"y":{"field":"value","type":"quantitative","scale":{"domain":[0,15],"nice":false},"axis":{"title":"Fluorescence (AU/mg of protein)","titleFont":"Liberation Serif","values":[0,5,10,15],"format":"d"}}}},
{"data":{"name":"bars"},"transform":[{"filter":"datum.p==='B' && datum.group==='Glc+Rot' && datum.value<=8 && datum.value>4.7"}],
"mark":{"type":"bar","fill":{"expr":"g25"},"stroke":"black","strokeWidth":1.5},
"encoding":{"y":{"field":"value","type":"quantitative","scale":{"domain":[0,15],"nice":false},"axis":{"title":"Fluorescence (AU/mg of protein)","titleFont":"Liberation Serif","values":[0,5,10,15],"format":"d"}}}},
{"data":{"name":"bars"},"transform":[{"filter":"datum.p==='B' && datum.group==='Glc+Rot' && datum.value<=4.7"}],
"mark":{"type":"bar","fill":{"expr":"g20"},"stroke":"black","strokeWidth":1.5},
"encoding":{"y":{"field":"value","type":"quantitative","scale":{"domain":[0,15],"nice":false},"axis":{"title":"Fluorescence (AU/mg of protein)","titleFont":"Liberation Serif","values":[0,5,10,15],"format":"d"}}}},
{"data":{"name":"bars"},"transform":[{"filter":"datum.p==='B'"}],
"mark":{"type":"rule","color":"black","strokeWidth":1.5},
"encoding":{"y":{"field":"value","type":"quantitative","scale":{"domain":[0,15],"nice":false},"axis":{"title":"Fluorescence (AU/mg of protein)","titleFont":"Liberation Serif","values":[0,5,10,15],"format":"d"}},"y2":{"field":"upper"}}},
{"data":{"name":"bars"},"transform":[{"filter":"datum.p==='B'"}],
"mark":{"type":"tick","orient":"horizontal","color":"black","thickness":1.5,"size":6},
"encoding":{"y":{"field":"upper","type":"quantitative","scale":{"domain":[0,15],"nice":false},"axis":{"title":"Fluorescence (AU/mg of protein)","titleFont":"Liberation Serif","values":[0,5,10,15],"format":"d"}}}},
{"data":{"name":"brackets"},"transform":[{"filter":"datum.p==='B'"},{"fold":["from","to"],"as":["end","group"]}],
"mark":{"type":"line","color":"black","strokeWidth":1.5},
"encoding":{"y":{"field":"yb","type":"quantitative","scale":{"domain":[0,15],"nice":false},"axis":{"title":"Fluorescence (AU/mg of protein)","titleFont":"Liberation Serif","values":[0,5,10,15],"format":"d"}},"detail":{"field":"bid"}}},
{"data":{"name":"brackets"},"transform":[{"filter":"datum.p==='B'"},{"fold":["from","to"],"as":["end","group"]}],
"mark":{"type":"tick","orient":"vertical","color":"black","thickness":1.5,"size":9},
"encoding":{"y":{"field":"yb","type":"quantitative","scale":{"domain":[0,15],"nice":false},"axis":{"title":"Fluorescence (AU/mg of protein)","titleFont":"Liberation Serif","values":[0,5,10,15],"format":"d"}}}},
{"data":{"name":"brackets"},"transform":[{"filter":"datum.p==='B'"}],
"mark":{"type":"text","font":"Liberation Sans","fontSize":11,"dx":-7.6,"dy":-3,"baseline":"alphabetic","color":"black"},
"encoding":{"xOffset":{"field":"labelAt","type":"nominal","scale":{"domain":["Control","Glc","Glc+Rot","Glc+Rot+AMG","Glc+Rot+Vit E","Glc+Rot+AMG+Vit E"],"paddingInner":0,"paddingOuter":0}},
"y":{"field":"yb","type":"quantitative","scale":{"domain":[0,15],"nice":false},"axis":{"title":"Fluorescence (AU/mg of protein)","titleFont":"Liberation Serif","values":[0,5,10,15],"format":"d"}},"text":{"field":"label"}}}
]
}
]
}
